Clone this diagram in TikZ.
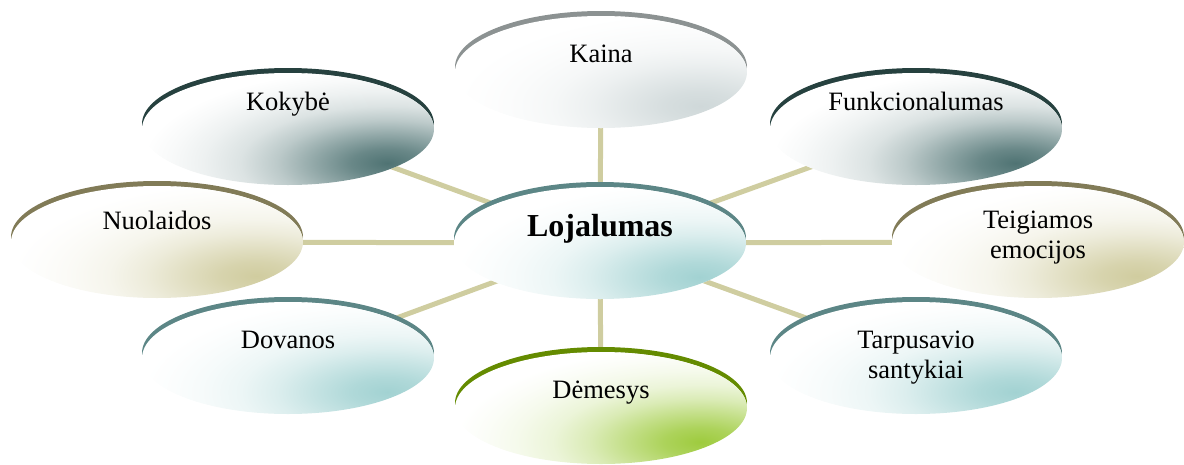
\documentclass[tikz,border=0pt]{standalone}
\usepackage{fontspec}
\setmainfont{Liberation Serif}
\usetikzlibrary{shapes.geometric,backgrounds,calc}

% rim and shade colours of the bubbles
\definecolor{greyRim}{HTML}{8C9292}
\definecolor{greyEnd}{HTML}{CFD8D9}
\definecolor{slateRim}{HTML}{26413F}
\definecolor{slateEnd}{HTML}{4F7373}
\definecolor{tealRim}{HTML}{5C8686}
\definecolor{tealEnd}{HTML}{A2D2D2}
\definecolor{oliveRim}{HTML}{817B57}
\definecolor{oliveEnd}{HTML}{D0CC9F}
\definecolor{greenRim}{HTML}{648B00}
\definecolor{greenEnd}{HTML}{9ECB3E}
\definecolor{linkCol}{HTML}{CFCDA0}

% a soft patch of colour fading to white; the patch's box maps onto the
% central 50bp of the shading, so 25bp is the rim of the patch
\newcommand\spotshade[2]{%
  \pgfdeclareradialshading{#1}{\pgfpointorigin}{color(0bp)=(#2);
    color(3.75bp)=(#2!85!white); color(7.5bp)=(#2!62!white); color(11.25bp)=(#2!38!white);
    color(15bp)=(#2!20!white); color(18.75bp)=(#2!10!white); color(22bp)=(#2!4!white);
    color(25bp)=(white); color(50bp)=(white)}}
\spotshade{shGrey}{greyEnd}
\spotshade{shSlate}{slateEnd}
\spotshade{shTeal}{tealEnd}
\spotshade{shOlive}{oliveEnd}
\spotshade{shGreen}{greenEnd}

\tikzset{
  bubble/.style 2 args={ellipse, inner sep=0pt, minimum width=292pt, minimum height=112pt,
    fill=white,
    preaction={fill=#2, transform canvas={yshift=5pt}},
    path picture={\shade[shading=#1]
      ([xshift=100pt, yshift=-34pt]path picture bounding box.center)
      ellipse [x radius=245pt, y radius=95pt];}},
  lbl/.style={inner sep=0pt, font=\fontsize{26.5}{30}\selectfont, align=center, anchor=base},
  link/.style={draw=linkCol, line width=5pt},
}

\begin{document}
\begin{tikzpicture}[x=1pt, y=-1pt]
  \useasboundingbox (0,0) rectangle (1184,464);

  % bubbles
  \node[bubble={shTeal}{tealRim}]   (c)  at (600,243) {};
  \node[bubble={shGrey}{greyRim}]   (ka) at (601,72)  {};
  \node[bubble={shSlate}{slateRim}] (ko) at (288,129) {};
  \node[bubble={shSlate}{slateRim}] (fu) at (916,129) {};
  \node[bubble={shOlive}{oliveRim}] (nu) at (157,242) {};
  \node[bubble={shOlive}{oliveRim}] (te) at (1038,242) {};
  \node[bubble={shTeal}{tealRim}]   (do) at (288,358) {};
  \node[bubble={shTeal}{tealRim}]   (ta) at (916,358) {};
  \node[bubble={shGreen}{greenRim}] (de) at (601,408) {};

  % labels (for two lines the base anchor sits on the last line)
  \node[lbl, font=\fontsize{32}{36}\selectfont\bfseries] (tc) at ($(c.center)+(0,-7)$) {Lojalumas};
  \node[lbl] (tka) at ($(ka.center)+(0,-10)$) {Kaina};
  \node[lbl] (tko) at ($(ko.center)+(0,-19)$) {Kokybė};
  \node[lbl] (tfu) at ($(fu.center)+(0,-19)$) {Funkcionalumas};
  \node[lbl] (tnu) at ($(nu.center)+(0,-13)$) {Nuolaidos};
  \node[lbl] (tte) at ($(te.center)+(0,16)$) {Teigiamos\\emocijos};
  \node[lbl] (tdo) at ($(do.center)+(0,-10)$) {Dovanos};
  \node[lbl] (tta) at ($(ta.center)+(0,20)$) {Tarpusavio\\santykiai};
  \node[lbl] (tde) at ($(de.center)+(0,-10)$) {Dėmesys};

  % spokes behind the bubbles
  \begin{scope}[on background layer]
    \foreach \n in {ka,ko,fu,nu,te,do,ta,de}
      \draw[link] (c.center) -- (\n.center);
  \end{scope}
\end{tikzpicture}
\end{document}
